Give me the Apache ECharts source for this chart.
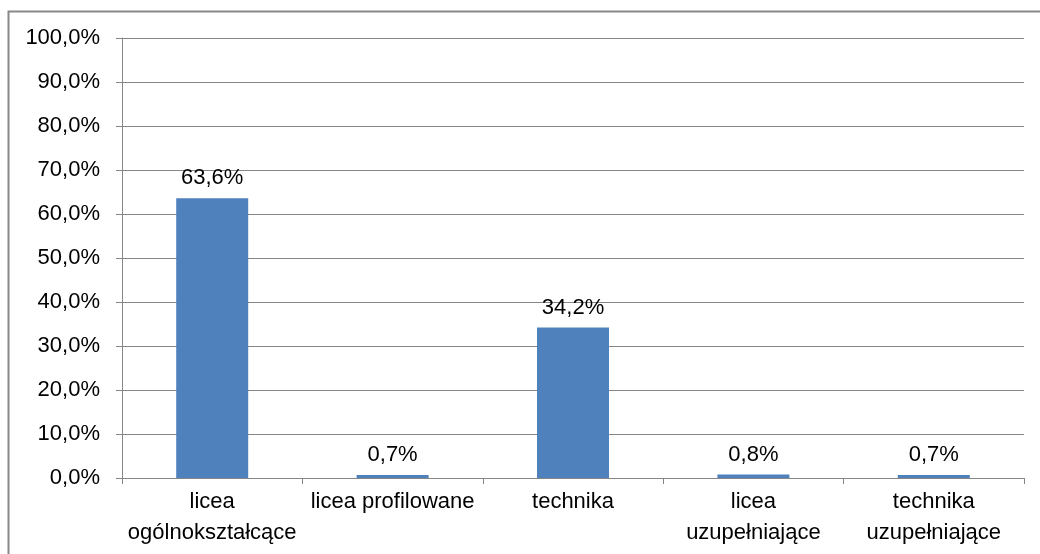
<!DOCTYPE html>
<html lang="pl">
<head>
  <meta charset="UTF-8">
  <title>szkoly</title>
  <style>
    * { padding: 0; margin: 0; }
    body { background: #fff; }
    #charts { width: 1040px; height: 554px; }
  </style>
</head>
<body>
  <div id="charts"></div>
  <script src="https://cdn.jsdelivr.net/npm/echarts@6/dist/echarts.min.js"></script>
  <script>
    var categories = ['licea\nogólnokształcące', 'licea profilowane', 'technika', 'licea\nuzupełniające', 'technika\nuzupełniające']
    var shares = [63.6, 0.7, 34.2, 0.8, 0.7]
    var yTicks = { min: 0, max: 100, interval: 10 }

    function pct(v) {
      return v.toFixed(1).replace('.', ',') + '%'
    }

    var myChart = echarts.init(document.getElementById('charts'))
    var font = 'Liberation Sans, Arial, sans-serif'
    myChart.setOption({
      animation: false,
      textStyle: { fontFamily: font },
      graphic: [{
        type: 'rect',
        shape: { x: 8.5, y: 11.5, width: 1060, height: 600 },
        style: { fill: 'none', stroke: '#888', lineWidth: 2 },
        silent: true
      }],
      grid: { left: 122, right: 16, top: 38, bottom: 76 },
      xAxis: {
        type: 'category',
        data: categories,
        axisLine: { lineStyle: { color: '#868686' } },
        axisTick: { show: true, length: 6, lineStyle: { color: '#868686' } },
        axisLabel: { color: '#000', fontSize: 22, lineHeight: 31, margin: 8, interval: 0 }
      },
      yAxis: {
        type: 'value',
        min: yTicks.min,
        max: yTicks.max,
        interval: yTicks.interval,
        axisLine: { show: true, lineStyle: { color: '#868686' } },
        axisTick: { show: true, length: 6, lineStyle: { color: '#868686' } },
        splitLine: { lineStyle: { color: '#868686' } },
        axisLabel: { color: '#000', fontSize: 22, margin: 22, padding: [4, 0, 0, 0], formatter: function (v) { return pct(v) } }
      },
      series: [{
        type: 'bar',
        data: shares,
        barWidth: 72,
        itemStyle: { color: '#4F81BD' },
        label: {
          show: true,
          position: 'top',
          distance: 9,
          color: '#000',
          fontSize: 22,
          formatter: function (p) { return pct(p.value) }
        }
      }]
    })
  </script>
</body>
</html>
